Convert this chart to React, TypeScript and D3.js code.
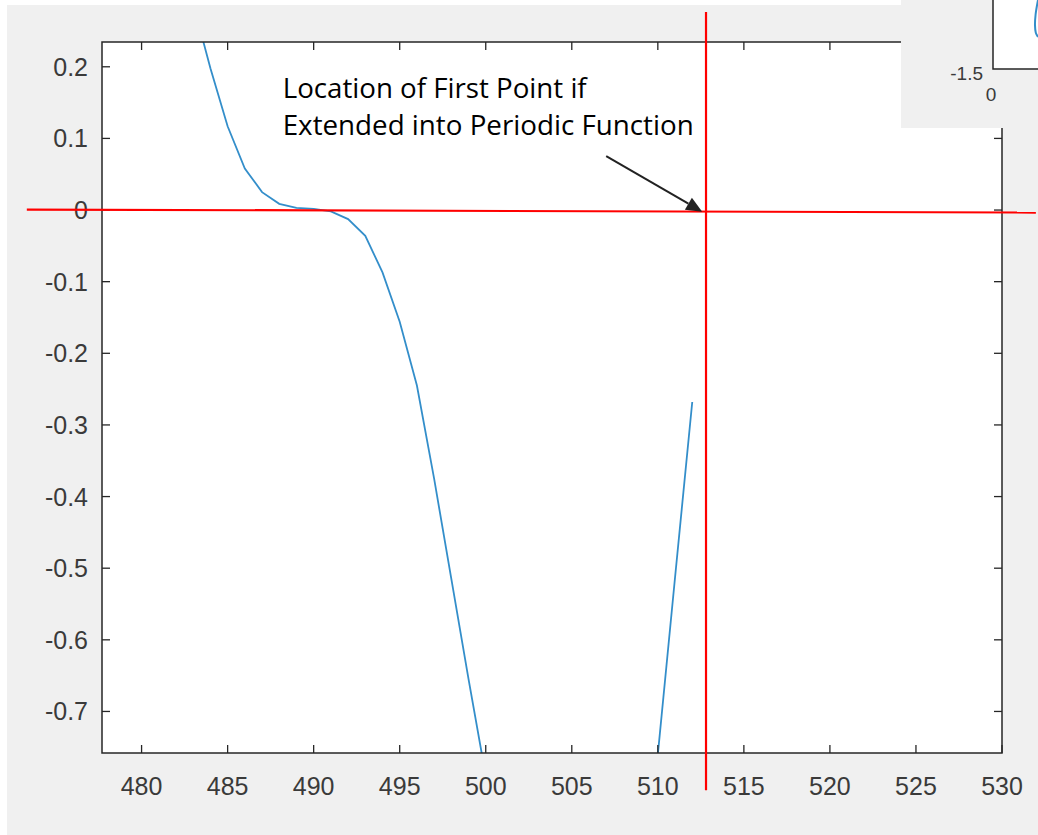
import React from "react";
import * as d3 from "d3";

// main curve, left branch (x = sample index, y = value)
const branchAX = [483, 484, 485, 486, 487, 488, 489, 490, 491, 492, 493, 494, 495, 496, 497, 498, 499, 500];
const branchAY = [0.288, 0.198, 0.117, 0.058, 0.025, 0.0087, 0.003, 0.0015, -0.002, -0.0126, -0.036, -0.087, -0.156, -0.245, -0.375, -0.515, -0.655, -0.79];
// right branch coming back up
const branchBX = [510, 511, 512];
const branchBY = [-0.76, -0.513, -0.268];

const xTicks = [480, 485, 490, 495, 500, 505, 510, 515, 520, 525, 530];
const yTicks = [0.2, 0.1, 0, -0.1, -0.2, -0.3, -0.4, -0.5, -0.6, -0.7];

// red guide lines and annotation, in data units
const hLine = { x1: 473.33, y1: 0.0007, x2: 531.97, y2: -0.0035 };
const vLine = { x: 512.8, y1: 0.2765, y2: -0.81 };
const arrow = { x1: 507.0, y1: 0.0754, x2: 512.58, y2: -0.0024 };
const noteLines = ["Location of First Point if", "Extended into Periodic Function"];
const noteAnchor = { x: 488.2, y: 0.156 };

// cropped piece of another figure in the top-right corner
const insetCurveX = [22.5, 21.3, 21.0, 21.4, 22.5];
const insetCurveY = [-0.55, -0.75, -0.9, -1.0, -1.06];
const insetTicks = { y: "-1.5", x: "0" };

const axisColor = "#262626";
const labelColor = "#3a3a3a";
const tickFont = "'Liberation Sans', Arial, sans-serif";

export default function App() {
  const W = 1038;
  const H = 835;
  const left = 102, right = 1002, top = 42, bottom = 753;

  const x = d3.scaleLinear().domain([477.7, 530]).range([left, right]);
  const y = d3.scaleLinear().domain([-0.758, 0.2346]).range([bottom, top]);

  const line = d3
    .line<[number, number]>()
    .x((d) => x(d[0]))
    .y((d) => y(d[1]));

  const pathA = line(branchAX.map((v, i) => [v, branchAY[i]]));
  const pathB = line(branchBX.map((v, i) => [v, branchBY[i]]));

  // inset
  const ix = d3.scaleLinear().domain([0, 50]).range([993, 1093]);
  const iy = d3.scaleLinear().domain([-1.5, 0]).range([69, -40]);
  const insetPath = d3
    .line<[number, number]>()
    .x((d) => ix(d[0]))
    .y((d) => iy(d[1]))
    .curve(d3.curveCatmullRom)(insetCurveX.map((v, i) => [v, insetCurveY[i]]));

  const tickLen = 8;

  // arrow head
  const ax1 = x(arrow.x1), ay1 = y(arrow.y1), ax2 = x(arrow.x2), ay2 = y(arrow.y2);
  const ang = Math.atan2(ay2 - ay1, ax2 - ax1);
  const headL = 16, headW = 7;
  const bx = ax2 - headL * Math.cos(ang), by = ay2 - headL * Math.sin(ang);
  const head = [
    [ax2, ay2],
    [bx + headW * Math.sin(ang), by - headW * Math.cos(ang)],
    [bx - headW * Math.sin(ang), by + headW * Math.cos(ang)],
  ]
    .map((p) => p.join(","))
    .join(" ");

  return (
    <svg
      width={W}
      height={H}
      style={{ position: "absolute", left: 0, top: 0, display: "block" }}
    >
      <rect x={0} y={0} width={W} height={H} fill="#ffffff" />
      <rect x={7} y={5} width={W - 7} height={H - 5} fill="#f0f0f0" />

      <defs>
        <clipPath id="plot">
          <rect x={left} y={top} width={right - left} height={bottom - top} />
        </clipPath>
        <clipPath id="inset">
          <rect x={993} y={0} width={45} height={69} />
        </clipPath>
      </defs>

      <rect x={left} y={top} width={right - left} height={bottom - top} fill="#ffffff" />

      <g clipPath="url(#plot)" fill="none" stroke="#0072BD" strokeWidth={1.8} strokeOpacity={0.8}>
        <path d={pathA ?? ""} />
        <path d={pathB ?? ""} />
      </g>

      {/* ticks */}
      <g stroke={axisColor} strokeWidth={1.3}>
        {xTicks.map((t) => (
          <g key={"xt" + t}>
            <line x1={x(t)} x2={x(t)} y1={bottom} y2={bottom - tickLen} />
            <line x1={x(t)} x2={x(t)} y1={top} y2={top + tickLen} />
          </g>
        ))}
        {yTicks.map((t) => (
          <g key={"yt" + t}>
            <line x1={left} x2={left + tickLen} y1={y(t)} y2={y(t)} />
            <line x1={right} x2={right - tickLen} y1={y(t)} y2={y(t)} />
          </g>
        ))}
      </g>
      <rect
        x={left}
        y={top}
        width={right - left}
        height={bottom - top}
        fill="none"
        stroke={axisColor}
        strokeWidth={1.5}
      />

      {/* tick labels */}
      <g fill={labelColor} fontFamily={tickFont} fontSize={25}>
        {xTicks.map((t) => (
          <text key={"xl" + t} x={x(t)} y={795} textAnchor="middle">
            {String(t)}
          </text>
        ))}
        {yTicks.map((t) => (
          <text key={"yl" + t} x={88} y={y(t)} dy="0.36em" textAnchor="end">
            {String(t)}
          </text>
        ))}
      </g>

      {/* red guide lines */}
      <g stroke="#ff0000" strokeWidth={2.2}>
        <line x1={x(hLine.x1)} y1={y(hLine.y1)} x2={x(hLine.x2)} y2={y(hLine.y2)} />
        <line x1={x(vLine.x)} y1={y(vLine.y1)} x2={x(vLine.x)} y2={y(vLine.y2)} />
      </g>

      {/* annotation */}
      <line x1={ax1} y1={ay1} x2={bx} y2={by} stroke="#222222" strokeWidth={2} />
      <polygon points={head} fill="#222222" />
      <g fontFamily="'Open Sans', 'Noto Sans', sans-serif" fontSize={27} fill="#000000">
        <text x={x(noteAnchor.x)} y={y(noteAnchor.y)} textLength={304} lengthAdjust="spacingAndGlyphs">
          {noteLines[0]}
        </text>
        <text x={x(noteAnchor.x)} y={y(noteAnchor.y) + 37} textLength={411} lengthAdjust="spacingAndGlyphs">
          {noteLines[1]}
        </text>
      </g>

      {/* inset fragment of another figure */}
      <rect x={901} y={0} width={W - 901} height={128} fill="#f0f0f0" />
      <rect x={993} y={0} width={W - 993} height={69} fill="#ffffff" />
      <path d={insetPath ?? ""} clipPath="url(#inset)" fill="none" stroke="#0072BD" strokeWidth={2} strokeOpacity={0.8} />
      <path d={`M${ix(0)},0 V${iy(-1.5)} H${W}`} fill="none" stroke={axisColor} strokeWidth={1.5} />
      <g fill={labelColor} fontFamily={tickFont} fontSize={19}>
        <text x={983} y={80} textAnchor="end">
          {insetTicks.y}
        </text>
        <text x={991} y={101} textAnchor="middle">
          {insetTicks.x}
        </text>
      </g>
    </svg>
  );
}
